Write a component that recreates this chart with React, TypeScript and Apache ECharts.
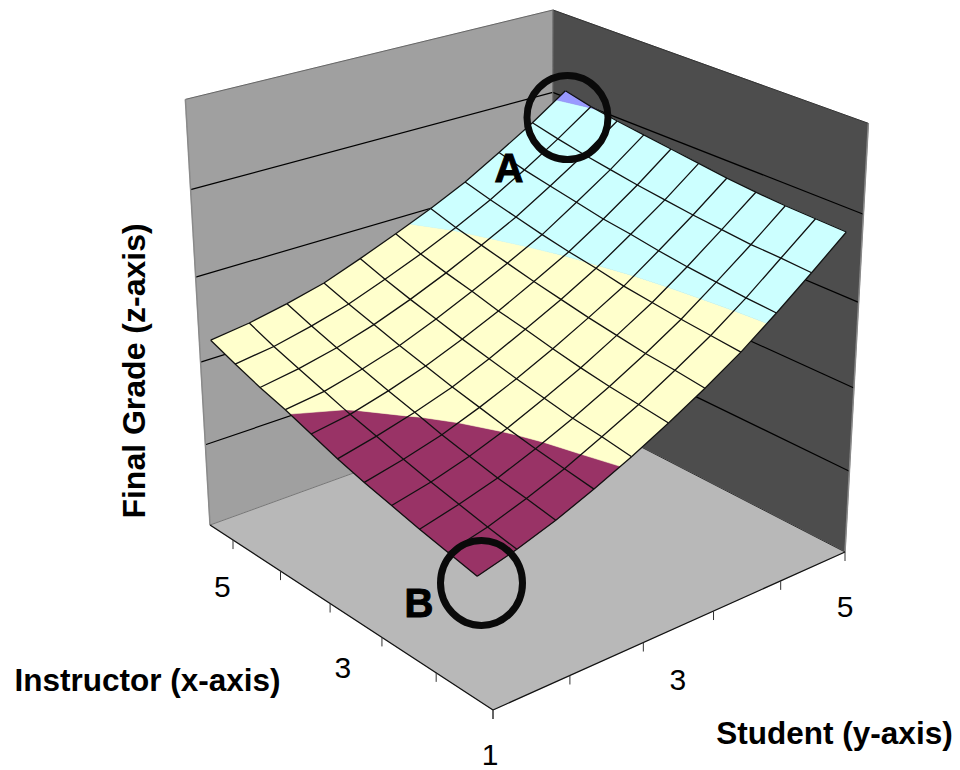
import React, { useEffect, useRef } from "react";
import * as echarts from "echarts";

// Final grade by instructor index (columns, 1..5 in 0.4 steps) and student index (rows, 1..5 in 0.4 steps)
const studentRow0 = [1.41, 1.48, 1.55, 1.63, 1.71, 1.8, 1.91, 2.02, 2.11, 2.22, 2.34];
const studentRow1 = [1.53, 1.59, 1.66, 1.73, 1.81, 1.9, 1.98, 2.08, 2.18, 2.28, 2.4];
const studentRow2 = [1.68, 1.74, 1.79, 1.86, 1.93, 2.02, 2.1, 2.19, 2.28, 2.38, 2.49];
const studentRow3 = [1.86, 1.91, 1.96, 2.02, 2.09, 2.16, 2.24, 2.32, 2.41, 2.5, 2.6];
const studentRow4 = [2.06, 2.11, 2.15, 2.21, 2.27, 2.34, 2.41, 2.49, 2.57, 2.66, 2.76];
const studentRow5 = [2.28, 2.32, 2.36, 2.41, 2.47, 2.54, 2.6, 2.68, 2.75, 2.83, 2.93];
const studentRow6 = [2.52, 2.56, 2.59, 2.64, 2.69, 2.75, 2.81, 2.88, 2.95, 3.02, 3.11];
const studentRow7 = [2.78, 2.81, 2.84, 2.88, 2.92, 2.98, 3.03, 3.09, 3.16, 3.23, 3.31];
const studentRow8 = [3.08, 3.1, 3.13, 3.16, 3.2, 3.25, 3.29, 3.35, 3.41, 3.47, 3.55];
const studentRow9 = [3.4, 3.42, 3.43, 3.46, 3.49, 3.53, 3.57, 3.62, 3.67, 3.73, 3.8];
const studentRow10 = [3.73, 3.74, 3.75, 3.77, 3.8, 3.84, 3.88, 3.92, 3.96, 4.01, 4.08];
const grades = [
  studentRow0, studentRow1, studentRow2, studentRow3, studentRow4, studentRow5,
  studentRow6, studentRow7, studentRow8, studentRow9, studentRow10,
];

const zLevels = [1, 2, 3, 4];
const zMax = 5;
const bandLimits = [1, 2, 3, 4, 5];
const bandColors = ["#993366", "#FFFFCC", "#CCFFFF", "#9999FF"];
const instructorTicks = [0, 2, 4, 6, 8, 10];
const studentTicks = [0, 2, 4, 6, 8, 10];
const instructorLabels = ["1", "3", "5"];
const studentLabels = ["3", "5"];

// perspective of the 3D box: u along instructor, v along student, w = z / zMax
const P = { x0: 493, y0: 710, ux: -255.6, uy: -116.5, vx: 451.8, vy: -92.8, wx: -42.5, wy: -489, du: 0.1304, dv: 0.1181, dw: -0.079 };
const project = (u: number, v: number, w: number) => {
  const d = 1 + P.du * u + P.dv * v + P.dw * w;
  return [(P.x0 + P.ux * u + P.vx * v + P.wx * w) / d, (P.y0 + P.uy * u + P.vy * v + P.wy * w) / d];
};
const uOf = (i: number) => (i + 0.5) / 11;
const vOf = (j: number) => j / 10;

type V = { i: number; j: number; z: number };
const clip = (poly: V[], limit: number, keepAbove: boolean) => {
  const out: V[] = [];
  const inside = (p: V) => (keepAbove ? p.z >= limit : p.z <= limit);
  for (let k = 0; k < poly.length; k++) {
    const a = poly[k];
    const b = poly[(k + 1) % poly.length];
    if (inside(a)) out.push(a);
    if (inside(a) !== inside(b)) {
      const t = (limit - a.z) / (b.z - a.z);
      out.push({ i: a.i + (b.i - a.i) * t, j: a.j + (b.j - a.j) * t, z: limit });
    }
  }
  return out;
};

const cellData: number[][] = [];
for (let j = 9; j >= 0; j--) for (let i = 9; i >= 0; i--) cellData.push([i, j]);
const gridLines: number[][] = [];
for (let n = 0; n <= 10; n++) {
  gridLines.push([0, n]);
  gridLines.push([1, n]);
}

export default function App() {
  const ref = useRef<HTMLDivElement>(null);
  useEffect(() => {
    const chart = echarts.init(ref.current!, undefined, { renderer: "svg" });
    const toPx = (api: any, p: number[]) => api.coord(p);

    const poly = (api: any, pts: number[][], fill: string) => ({
      type: "polygon",
      shape: { points: pts.map((p) => toPx(api, p)) },
      style: { fill, stroke: fill, lineWidth: 0.6 },
    });
    const line = (api: any, a: number[], b: number[], stroke: string, lineWidth = 1) => {
      const pa = toPx(api, a);
      const pb = toPx(api, b);
      return { type: "line", shape: { x1: pa[0], y1: pa[1], x2: pb[0], y2: pb[1] }, style: { stroke, lineWidth } };
    };

    const boxItem = (_: any, api: any) => {
      const children: any[] = [
        poly(api, [project(1, 0, 0), project(1, 1, 0), project(1, 1, 1), project(1, 0, 1)], "#A0A0A0"),
        poly(api, [project(1, 1, 0), project(0, 1, 0), project(0, 1, 1), project(1, 1, 1)], "#4D4D4D"),
        poly(api, [project(0, 0, 0), project(1, 0, 0), project(1, 1, 0), project(0, 1, 0)], "#B8B8B8"),
      ];
      zLevels.forEach((l) => {
        const w = l / zMax;
        children.push(line(api, project(1, 0, w), project(1, 1, w), "#000", 1.2));
        children.push(line(api, project(1, 1, w), project(0, 1, w), "#000", 1.2));
      });
      children.push(line(api, project(1, 0, 1), project(1, 1, 1), "#666"));
      children.push(line(api, project(1, 1, 1), project(0, 1, 1), "#333"));
      children.push(line(api, project(1, 0, 0), project(1, 0, 1), "#8A8A8A", 1.5));
      children.push(line(api, project(0, 1, 0), project(0, 1, 1), "#8A8A8A", 1.5));
      children.push(line(api, project(1, 1, 0), project(1, 1, 1), "#777"));
      children.push(line(api, project(1, 0, 0), project(1, 1, 0), "#777"));
      children.push(line(api, project(1, 1, 0), project(0, 1, 0), "#333"));
      children.push(line(api, project(0, 0, 0), project(1, 0, 0), "#111", 1.3));
      children.push(line(api, project(0, 0, 0), project(0, 1, 0), "#111", 1.3));
      instructorTicks.forEach((t) => {
        const p = project(t / 11, 0, 0);
        children.push(line(api, p, [p[0], p[1] + 9], "#333"));
      });
      studentTicks.forEach((t) => {
        const p = project(0, t / 10, 0);
        children.push(line(api, p, [p[0], p[1] + 9], "#333"));
      });
      return { type: "group", children };
    };

    const cellItem = (_: any, api: any) => {
      const i = api.value(0);
      const j = api.value(1);
      const base: V[] = [
        { i, j, z: grades[j][i] },
        { i: i + 1, j, z: grades[j][i + 1] },
        { i: i + 1, j: j + 1, z: grades[j + 1][i + 1] },
        { i, j: j + 1, z: grades[j + 1][i] },
      ];
      const children: any[] = [];
      bandColors.forEach((color, b) => {
        let p = clip(base, bandLimits[b], true);
        if (p.length) p = clip(p, bandLimits[b + 1], false);
        if (p.length >= 3) {
          children.push(poly(api, p.map((q) => project(uOf(q.i), vOf(q.j), q.z / zMax)), color));
        }
      });
      return { type: "group", children };
    };

    const gridItem = (_: any, api: any) => {
      const kind = api.value(0);
      const n = api.value(1);
      const pts: number[][] = [];
      for (let m = 0; m <= 10; m++) {
        const i = kind === 0 ? m : n;
        const j = kind === 0 ? n : m;
        pts.push(toPx(api, project(uOf(i), vOf(j), grades[j][i] / zMax)));
      }
      return { type: "polyline", shape: { points: pts }, style: { stroke: "#111", lineWidth: 1.3, fill: "none" } };
    };

    const tickText = (api: any, text: string, p: number[], dx: number, dy: number, fontSize = 30) => {
      const c = toPx(api, [p[0] + dx, p[1] + dy]);
      return {
        type: "text",
        style: { text, x: c[0], y: c[1], fontSize, fontFamily: "Liberation Sans", fill: "#000", align: "center", verticalAlign: "middle" },
      };
    };
    const labelItem = (_: any, api: any) => ({
      type: "group",
      children: [
        tickText(api, instructorLabels[0], project(0, 0, 0), -3, 44, 30),
        tickText(api, instructorLabels[1], project(uOf(5), 0, 0), 0, 56),
        tickText(api, instructorLabels[2], project(uOf(10), 0, 0), 1, 54),
        tickText(api, studentLabels[0], project(0, vOf(5), 0), -1, 53),
        tickText(api, studentLabels[1], project(0, vOf(10), 0), 0, 54),
      ],
    });

    const titleFont = { fontFamily: "Liberation Sans", fontWeight: "bold", fill: "#000" };
    chart.setOption({
      animation: false,
      backgroundColor: "#fff",
      grid: { left: 0, top: 0, width: 960, height: 770 },
      xAxis: { type: "value", min: 0, max: 960, show: false },
      yAxis: { type: "value", min: 0, max: 770, inverse: true, show: false },
      series: [
        { type: "custom", coordinateSystem: "cartesian2d", clip: false, silent: true, data: [[0, 0]], renderItem: boxItem },
        { type: "custom", coordinateSystem: "cartesian2d", clip: false, silent: true, data: cellData, renderItem: cellItem },
        { type: "custom", coordinateSystem: "cartesian2d", clip: false, silent: true, data: gridLines, renderItem: gridItem },
        { type: "custom", coordinateSystem: "cartesian2d", clip: false, silent: true, data: [[0, 0]], renderItem: labelItem },
      ],
      graphic: [
        { type: "ellipse", z: 100, shape: { cx: 567.5, cy: 117.5, rx: 40.5, ry: 42 }, style: { fill: "none", stroke: "#0a0a0a", lineWidth: 7 } },
        { type: "ellipse", z: 100, shape: { cx: 481.5, cy: 583, rx: 41, ry: 42.5 }, style: { fill: "none", stroke: "#0a0a0a", lineWidth: 7 } },
        { type: "text", z: 100, x: 509, y: 168, style: { text: "A", fontSize: 40, ...titleFont, stroke: "#000", lineWidth: 1, align: "center", verticalAlign: "middle" } },
        { type: "text", z: 100, x: 419, y: 603, style: { text: "B", fontSize: 40, ...titleFont, stroke: "#000", lineWidth: 1, align: "center", verticalAlign: "middle" } },
        { type: "text", z: 100, x: 147.5, y: 680, style: { text: "Instructor (x-axis)", fontSize: 31.5, ...titleFont, align: "center", verticalAlign: "middle" } },
        { type: "text", z: 100, x: 834.5, y: 733, style: { text: "Student (y-axis)", fontSize: 31.5, ...titleFont, align: "center", verticalAlign: "middle" } },
        { type: "text", z: 100, x: 133.5, y: 371, rotation: Math.PI / 2, style: { text: "Final Grade (z-axis)", fontSize: 32, ...titleFont, align: "center", verticalAlign: "middle" } },
      ],
    });
    return () => chart.dispose();
  }, []);
  return <div ref={ref} style={{ position: "fixed", left: 0, top: 0, width: 960, height: 770 }} />;
}
